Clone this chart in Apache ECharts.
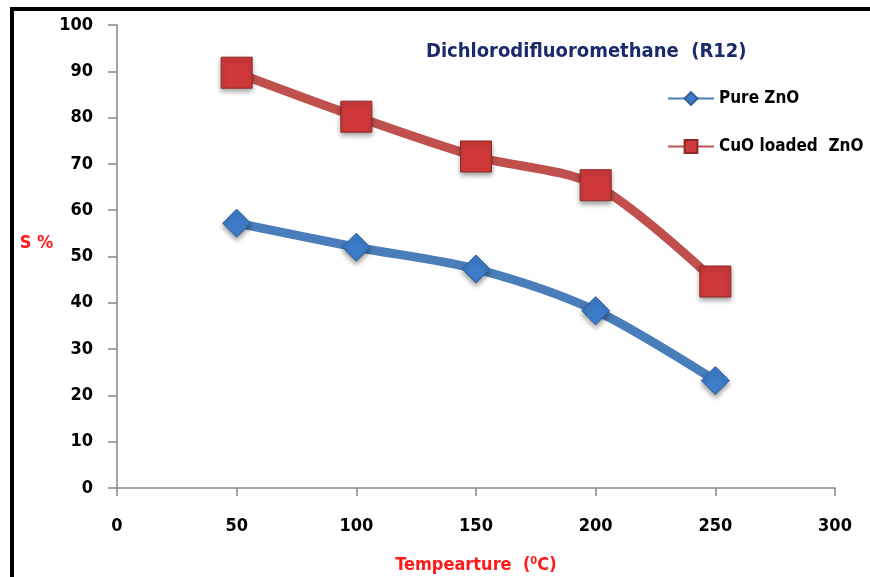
<!DOCTYPE html>
<html><head><meta charset="utf-8">
<script src="https://cdn.jsdelivr.net/npm/echarts@6/dist/echarts.min.js"></script>
<style>html,body{margin:0;padding:0;background:#fff}#c{width:870px;height:577px}</style>
</head><body><div id="c"></div>
<script>
const temperatures = [50, 100, 150, 200, 250];
const pureZnO = [57.2, 52.0, 47.3, 38.3, 23.2];
const cuoZnO = [89.7, 80.2, 71.6, 65.4, 44.6];
const seriesNames = ['Pure ZnO', 'CuO loaded  ZnO'];
const titleText = 'Dichlorodifluoromethane  (R12)';
const xName = 'Tempearture  (\u2070C)';
const yName = 'S %';

const FONT = '"DejaVu Sans Condensed", "DejaVu Sans", sans-serif';
const chart = echarts.init(document.getElementById('c'), null, {renderer: 'canvas'});
chart.setOption({
  animation: false,
  backgroundColor: '#fff',
  graphic: [{
    type: 'rect', shape: {x: 12, y: 9, width: 900, height: 600},
    style: {fill: 'none', stroke: '#000', lineWidth: 4}, silent: true, z: -1
  }],
  title: {
    text: titleText, left: 421, top: 37,
    textStyle: {fontFamily: FONT, fontWeight: 'bold', fontSize: 20, color: '#1b2a6b'}
  },
  legend: {
    orient: 'vertical', left: 662, top: 85, itemGap: 31, itemWidth: 46, itemHeight: 16,
    textStyle: {fontFamily: FONT, fontWeight: 'bold', fontSize: 17, color: '#000'},
    data: seriesNames
  },
  grid: {left: 117, right: 35, top: 25, bottom: 89, containLabel: false, outerBoundsMode: 'none'},
  xAxis: {
    type: 'value', min: 0, max: 300, interval: 50,
    name: xName, nameLocation: 'middle', nameGap: 68,
    nameTextStyle: {fontFamily: FONT, fontWeight: 'bold', fontSize: 18, color: '#ff1a1a'},
    axisLine: {lineStyle: {color: '#868686', width: 1.5}},
    axisTick: {show: true, length: 8, lineStyle: {color: '#868686', width: 1.5}},
    axisLabel: {margin: 29, fontFamily: FONT, fontWeight: 'bold', fontSize: 18, color: '#000'},
    splitLine: {show: false}
  },
  yAxis: {
    type: 'value', min: 0, max: 100, interval: 10,
    name: yName, nameLocation: 'middle', nameGap: 50, nameRotate: 0,
    nameTextStyle: {fontFamily: FONT, fontWeight: 'bold', fontSize: 18, color: '#ff1a1a',
      verticalAlign: 'bottom', lineHeight: 26},
    axisLine: {show: true, lineStyle: {color: '#868686', width: 1.5}},
    axisTick: {show: true, length: 9, lineStyle: {color: '#868686', width: 1.5}},
    axisLabel: {margin: 24, fontFamily: FONT, fontWeight: 'bold', fontSize: 18, color: '#000'},
    splitLine: {show: false}
  },
  series: [{
    name: seriesNames[0], type: 'line', smooth: 0.3,
    data: temperatures.map((t, i) => [t, pureZnO[i]]),
    symbol: 'diamond', symbolSize: 28,
    lineStyle: {color: '#4a7ebb', width: 9},
    itemStyle: {color: '#3d7cc9', borderColor: '#2f5f9a', borderWidth: 1,
      shadowColor: 'rgba(0,0,0,0.4)', shadowBlur: 5, shadowOffsetY: 3},
    z: 2
  }, {
    name: seriesNames[1], type: 'line', smooth: 0.3,
    data: temperatures.map((t, i) => [t, cuoZnO[i]]),
    symbol: 'rect', symbolSize: 31,
    lineStyle: {color: '#c0504d', width: 9},
    itemStyle: {color: '#d0393a', borderColor: '#8c2a28', borderWidth: 1,
      shadowColor: 'rgba(0,0,0,0.4)', shadowBlur: 5, shadowOffsetY: 3},
    z: 3
  }]
});
</script></body></html>
